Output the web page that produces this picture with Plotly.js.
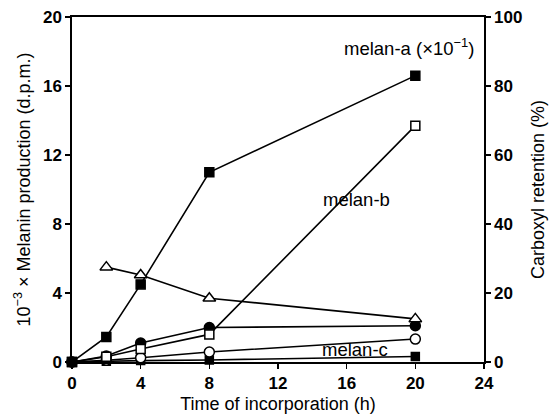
<!DOCTYPE html>
<html><head><meta charset="utf-8">
<script src="https://cdn.plot.ly/plotly-3.0.1.min.js"></script>
<style>body{margin:0;background:#fff}#c{width:558px;height:416px}</style>
</head><body><div id="c"></div>
<script>
const time = [0, 2, 4, 8, 20];
const melanA = [0, 1.45, 4.5, 11.0, 16.6];      // filled squares (x10^-1)
const melanB = [0, 0.3, 0.75, 1.6, 13.7];       // open squares
const filledCircle = [0, 0.35, 1.1, 2.0, 2.1];
const openCircle = [0, 0.1, 0.25, 0.58, 1.33];
const melanC = [0, 0.05, 0.08, 0.12, 0.32];     // small filled squares
const timeTri = [2, 4, 8, 20];
const carboxyl = [27.5, 25.2, 18.5, 12.5];      // open triangles, right axis (%)

const xTicks = [0, 4, 8, 12, 16, 20, 24];
const yTicks = [0, 4, 8, 12, 16, 20];
const y2Ticks = [0, 20, 40, 60, 80, 100];

const FAM = 'Liberation Sans, Arial, sans-serif';
const ln = {color: '#000', width: 1.6};
function tr(x, y, sym, size, yaxis, fill) {
  return {x: x, y: y, type: 'scatter', mode: 'lines+markers', yaxis: yaxis || 'y',
    cliponaxis: false, line: ln,
    marker: {symbol: sym, size: size, color: fill || '#000', line: {color: '#000', width: 1.5}}};
}
const data = [
  tr(time, melanC, 'square', 8),
  tr(time, openCircle, 'circle', 10, 'y', '#fff'),
  tr(time, filledCircle, 'circle', 10),
  tr(time, melanB, 'square', 9, 'y', '#fff'),
  tr(time, melanA, 'square', 9),
  tr(timeTri, carboxyl, 'triangle-up', 11, 'y2', '#fff')
];
const tf = {family: FAM, size: 17, color: '#000', weight: 'bold'};
const ttf = {family: FAM, size: 18, color: '#000'};
const af = {family: FAM, size: 18.5, color: '#000'};
const layout = {
  width: 558, height: 416, showlegend: false,
  paper_bgcolor: '#fff', plot_bgcolor: '#fff',
  margin: {l: 72, r: 74, t: 17, b: 54},
  xaxis: {range: [0, 24], tickvals: xTicks, ticktext: xTicks.map(String),
    showgrid: false, zeroline: false, showline: true, linecolor: '#000', linewidth: 1.6,
    mirror: true, ticks: 'outside', ticklen: 5, tickwidth: 1.5, tickcolor: '#000',
    tickfont: tf, title: {text: 'Time of incorporation (h)', font: ttf, standoff: 5}},
  yaxis: {range: [0, 20], tickvals: yTicks, ticktext: yTicks.map(String),
    showgrid: false, zeroline: false, showline: true, linecolor: '#000', linewidth: 1.6,
    ticks: 'outside', ticklen: 5, tickwidth: 1.5, tickcolor: '#000',
    tickfont: tf, title: {text: '10<sup>−3</sup> × Melanin production (d.p.m.)', font: ttf, standoff: 8}},
  yaxis2: {range: [0, 100], overlaying: 'y', side: 'right', tickvals: y2Ticks, ticktext: y2Ticks.map(String),
    showgrid: false, zeroline: false, showline: true, linecolor: '#000', linewidth: 1.6,
    ticks: 'outside', ticklen: 5, tickwidth: 1.5, tickcolor: '#000',
    tickfont: tf, title: {text: 'Carboxyl retention (%)', font: ttf, standoff: 10}},
  annotations: [
    {xref: 'paper', yref: 'paper', x: 0.98, y: 0.955, xanchor: 'right', showarrow: false,
     text: 'melan-a (×10<sup>−1</sup>)', font: af},
    {xref: 'paper', yref: 'paper', x: 0.69, y: 0.47, xanchor: 'center', showarrow: false,
     text: 'melan-b', font: af},
    {xref: 'paper', yref: 'paper', x: 0.686, y: 0.0, xanchor: 'center', showarrow: false,
     text: 'melan-c', font: af}
  ]
};
Plotly.newPlot('c', data, layout, {displayModeBar: false, staticPlot: true});
</script></body></html>
